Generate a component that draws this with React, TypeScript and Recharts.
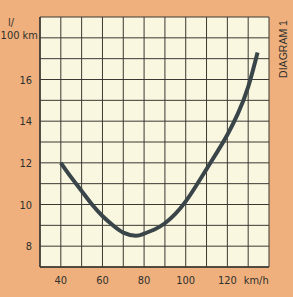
import { LineChart, Line, XAxis, YAxis, CartesianGrid } from 'recharts'

// speed (km/h) vs consumption (l/100km)
const speeds = [40, 45, 50, 55, 60, 65, 70, 76, 80, 85, 90, 95, 100, 105, 110, 115, 120, 125, 130, 134.5]
const consumption = [12, 11.3, 10.65, 10.0, 9.45, 9.0, 8.65, 8.5, 8.6, 8.8, 9.1, 9.55, 10.15, 10.9, 11.7, 12.5, 13.35, 14.35, 15.65, 17.3]

const xTicks = [30, 40, 50, 60, 70, 80, 90, 100, 110, 120, 130, 140]
const xLabels = [40, 60, 80, 100, 120]
const yTicks = [7, 8, 9, 10, 11, 12, 13, 14, 15, 16, 17, 18, 19]
const yLabels = [8, 10, 12, 14, 16]

const data = speeds.map((s, i) => ({ speed: s, value: consumption[i] }))

const FONT = '"Liberation Sans Narrow", "DejaVu Sans Condensed", Arial, sans-serif'
const INK = '#2f302c'
const GRID = '#3a3832'

function XTick(props: any) {
  const { x, y, payload } = props
  const v = payload.value
  if (v === 130) {
    return (
      <text x={x + 8} y={y + 9} textAnchor="middle" fontSize={11} fontFamily={FONT} fill={INK}>
        km/h
      </text>
    )
  }
  if (!xLabels.includes(v)) return null
  return (
    <text x={x} y={y + 9} textAnchor="middle" fontSize={11} fontFamily={FONT} fill={INK}>
      {v}
    </text>
  )
}

function YTick(props: any) {
  const { x, y, payload } = props
  const v = payload.value
  if (v === 18) {
    return (
      <g>
        <text x={8} y={y - 12} textAnchor="start" fontSize={11} fontFamily={FONT} fill={INK}>
          l/
        </text>
        <text x={x + 6} y={y + 1} textAnchor="end" fontSize={11} fontFamily={FONT} fill={INK}>
          100 km
        </text>
      </g>
    )
  }
  if (!yLabels.includes(v)) return null
  return (
    <text x={x} y={y + 4} textAnchor="end" fontSize={11} fontFamily={FONT} fill={INK}>
      {v}
    </text>
  )
}

export default function App() {
  return (
    <div style={{ position: 'fixed', top: 0, left: 0, width: 293, height: 297, background: '#efb07e' }}>
      <LineChart width={293} height={297} data={data} margin={{ top: 17, right: 24, left: 0, bottom: 0 }}>
        <CartesianGrid stroke={GRID} strokeWidth={1} fill="#faf7e1" />
        <XAxis
          dataKey="speed"
          type="number"
          domain={[30, 140]}
          ticks={xTicks}
          interval={0}
          height={30}
          tickLine={false}
          axisLine={{ stroke: GRID, strokeWidth: 1.5 }}
          tick={XTick}
        />
        <YAxis
          type="number"
          domain={[7, 19]}
          ticks={yTicks}
          interval={0}
          width={40}
          tickLine={false}
          axisLine={{ stroke: GRID, strokeWidth: 1.5 }}
          tick={YTick}
        />
        <Line
          type="natural"
          dataKey="value"
          stroke="#394548"
          strokeWidth={4}
          dot={false}
          isAnimationActive={false}
        />
      </LineChart>
      <svg width={20} height={80} style={{ position: 'absolute', left: 273, top: 10 }}>
        <text
          transform="translate(14,39) rotate(-90)"
          textAnchor="middle"
          fontSize={10.5}
          fontFamily='Arial, "Liberation Sans", sans-serif'
          fill={INK}
        >
          DIAGRAM 1
        </text>
      </svg>
    </div>
  )
}
